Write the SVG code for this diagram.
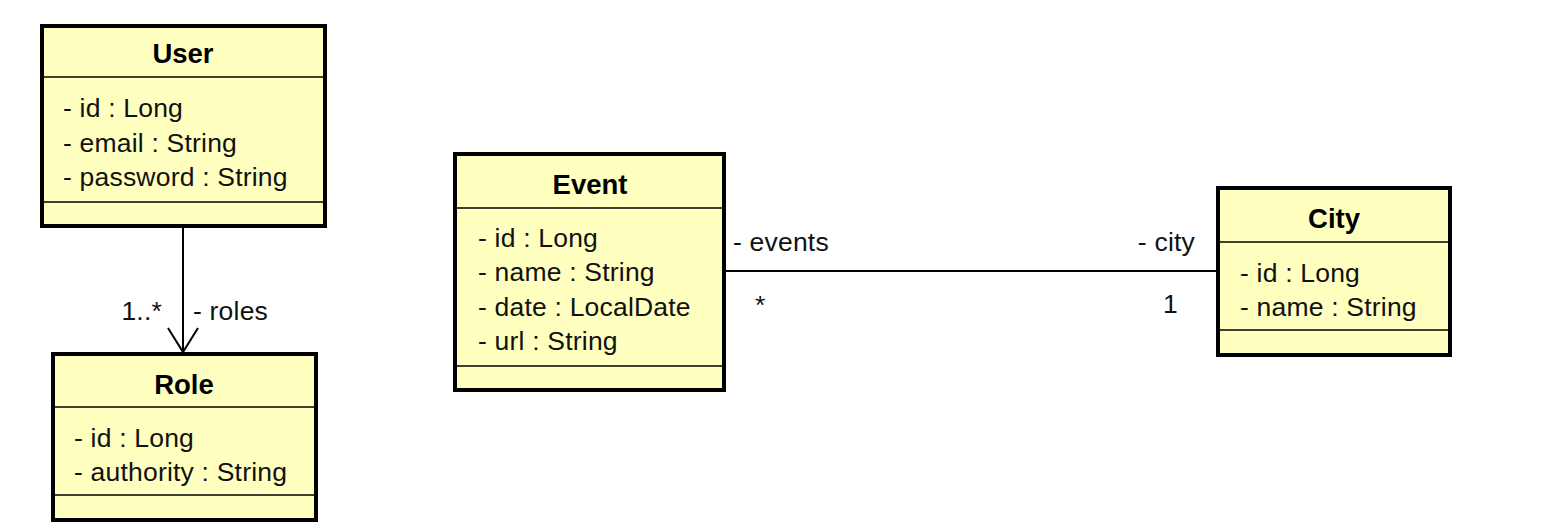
<svg xmlns="http://www.w3.org/2000/svg" width="1554" height="531" viewBox="0 0 1554 531">
<style>
.box{fill:#FFFFC0;stroke:#000;stroke-width:4}
.sep{stroke:#000;stroke-width:1.5}
.title{font-family:"Liberation Sans",Arial,sans-serif;font-size:27.5px;font-weight:bold;text-anchor:middle;fill:#000}
.attr{font-family:"Liberation Sans",Arial,sans-serif;font-size:26.5px;letter-spacing:0.2px;fill:#111}
.lbl{font-family:"Liberation Sans",Arial,sans-serif;font-size:26.5px;letter-spacing:0.2px;fill:#111}
.conn{stroke:#000;stroke-width:2;fill:none}
</style>
<rect width="1554" height="531" fill="#fff"/>
<g id="User">
<rect class="box" x="42" y="26" width="283" height="200"/>
<line class="sep" x1="42" y1="77" x2="325" y2="77"/>
<line class="sep" x1="42" y1="202" x2="325" y2="202"/>
<text class="title" x="183" y="63">User</text>
<text class="attr" x="63" y="117">- id : Long</text>
<text class="attr" x="63" y="152">- email : String</text>
<text class="attr" x="63" y="186">- password : String</text>
</g>
<g id="Role">
<rect class="box" x="53" y="354" width="263" height="166"/>
<line class="sep" x1="53" y1="407" x2="316" y2="407"/>
<line class="sep" x1="53" y1="495" x2="316" y2="495"/>
<text class="title" x="184" y="394">Role</text>
<text class="attr" x="74" y="447">- id : Long</text>
<text class="attr" x="74" y="481">- authority : String</text>
</g>
<g id="Event">
<rect class="box" x="455" y="154" width="269" height="236"/>
<line class="sep" x1="455" y1="208" x2="724" y2="208"/>
<line class="sep" x1="455" y1="366" x2="724" y2="366"/>
<text class="title" x="590" y="194">Event</text>
<text class="attr" x="478" y="247">- id : Long</text>
<text class="attr" x="478" y="281">- name : String</text>
<text class="attr" x="478" y="316">- date : LocalDate</text>
<text class="attr" x="478" y="350">- url : String</text>
</g>
<g id="City">
<rect class="box" x="1218" y="188" width="232" height="167"/>
<line class="sep" x1="1218" y1="242" x2="1450" y2="242"/>
<line class="sep" x1="1218" y1="330" x2="1450" y2="330"/>
<text class="title" x="1334" y="228">City</text>
<text class="attr" x="1240" y="282">- id : Long</text>
<text class="attr" x="1240" y="316">- name : String</text>
</g>
<g id="connectors">
<line class="conn" x1="183" y1="228" x2="183" y2="352"/>
<polyline class="conn" points="168,328 183,352 198,328"/>
<text class="lbl" x="162" y="320" text-anchor="end">1..*</text>
<text class="lbl" x="193" y="320">- roles</text>
<line class="conn" x1="726" y1="271" x2="1216" y2="271"/>
<text class="lbl" x="733" y="251">- events</text>
<text class="lbl" x="755" y="314">*</text>
<text class="lbl" x="1195" y="251" text-anchor="end">- city</text>
<text class="lbl" x="1178" y="313" text-anchor="end">1</text>
</g>
</svg>
